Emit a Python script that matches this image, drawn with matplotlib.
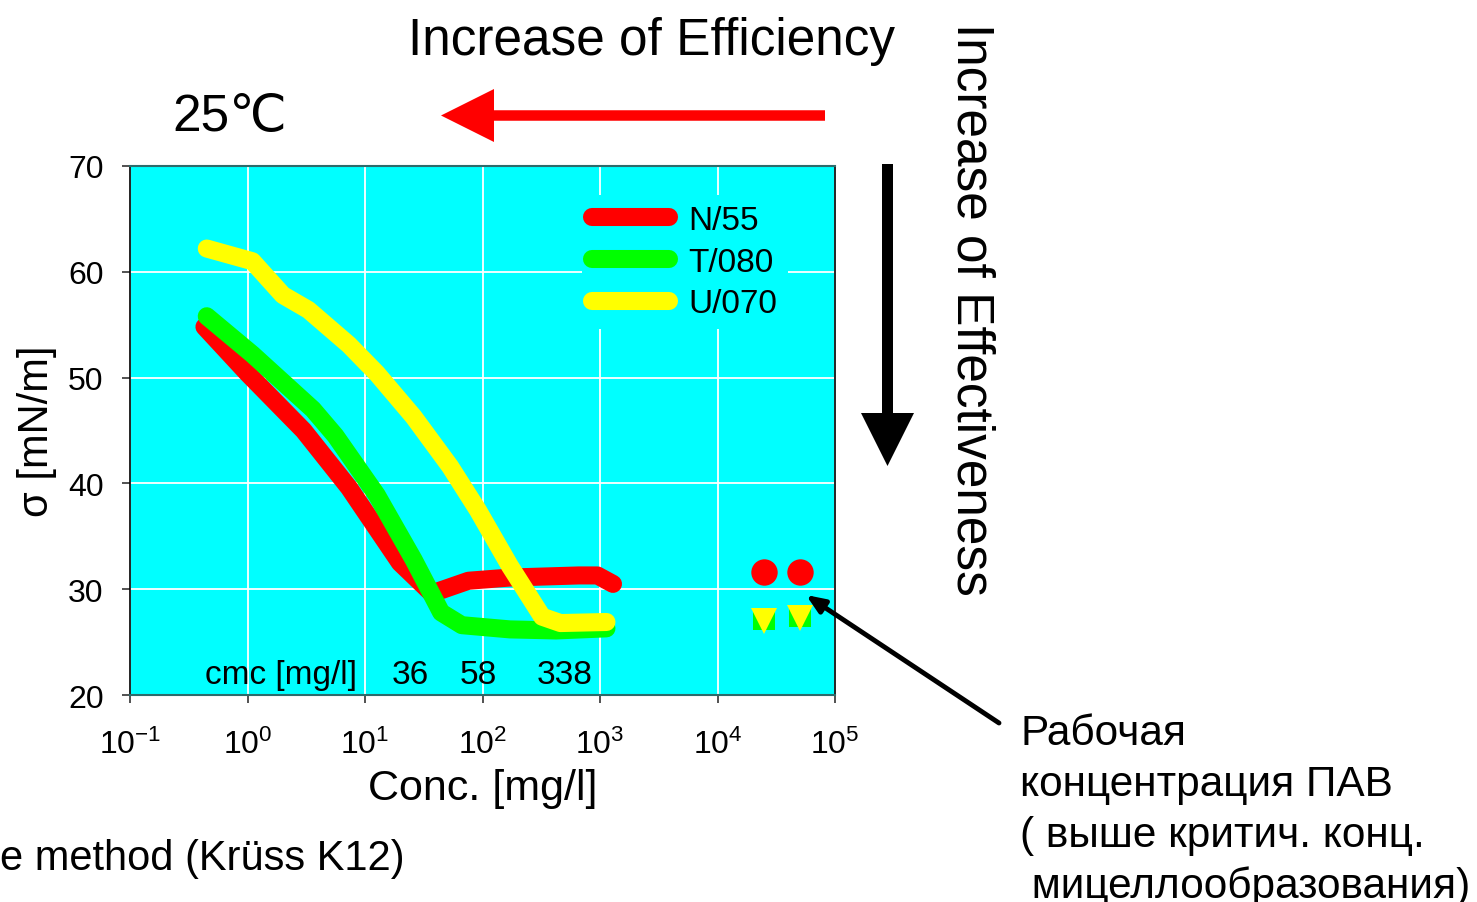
import numpy as np
import matplotlib
matplotlib.use("Agg")
import matplotlib.pyplot as plt
from matplotlib.patches import FancyArrow

plt.rcParams['font.family'] = ['Liberation Sans', 'DejaVu Sans']
plt.rcParams['mathtext.fontset'] = 'custom'
plt.rcParams['mathtext.rm'] = 'Liberation Sans'
plt.rcParams['mathtext.it'] = 'Liberation Sans:italic'
plt.rcParams['mathtext.bf'] = 'Liberation Sans:bold'

# surface tension vs concentration, 25 C
x_n55 = [0.43, 1.0, 3.0, 7.3, 19.8, 37, 50, 76, 170, 660, 950, 1290]
y_n55 = [54.8, 50.4, 45.0, 39.6, 32.5, 29.6, 30.1, 30.8, 31.1, 31.3, 31.3, 30.5]

x_t080 = [0.45, 1.1, 3.6, 5.6, 12.6, 25.9, 44.5, 66.7, 171, 422, 1135]
y_t080 = [55.8, 52.2, 47.0, 44.5, 38.9, 32.8, 27.8, 26.6, 26.2, 26.1, 26.3]

x_u070 = [0.45, 1.1, 2.0, 3.3, 7.3, 12.6, 25.9, 53, 91, 171, 322, 461, 1135]
y_u070 = [62.2, 61.0, 57.8, 56.4, 53.1, 50.4, 46.3, 41.6, 37.5, 32.2, 27.4, 26.8, 26.9]

# working concentration points
x_work = [25000, 50000]
y_n55_work = [31.6, 31.6]
y_t080_work = [27.2, 27.5]
y_u070_work = [27.0, 27.3]

cmc_values = ['36', '58', '338']

W, H = 1477, 903
fig = plt.figure(figsize=(W / 100, H / 100), dpi=100)
ax = fig.add_axes([130 / W, 1 - 696 / H, 705 / W, 529 / H])
ax.set_facecolor('#00ffff')

lw = 13
ax.plot(x_n55, y_n55, color='#ff0000', lw=lw, solid_capstyle='round', solid_joinstyle='round', label='N/55', zorder=3)
ax.plot(x_t080, y_t080, color='#00ff00', lw=lw, solid_capstyle='round', solid_joinstyle='round', label='T/080', zorder=4)
ax.plot(x_u070, y_u070, color='#ffff00', lw=lw, solid_capstyle='round', solid_joinstyle='round', label='U/070', zorder=5)

ax.plot(x_work, y_n55_work, 'o', color='#ff0000', ms=19, mew=0, zorder=6)
ax.plot(x_work, y_t080_work, 's', color='#00ff00', ms=16.5, mew=0, zorder=6)
ax.plot(x_work, y_u070_work, 'v', color='#ffff00', ms=19, mew=0, zorder=7)

ax.set_xscale('log')
ax.set_xlim(0.1, 1e5)
ax.set_ylim(20, 70)
ax.set_yticks([20, 30, 40, 50, 60, 70])
ax.minorticks_off()
ax.grid(True, color='white', lw=1.3)
ax.set_axisbelow(True)

for s in ['top', 'bottom']:
    ax.spines[s].set_color('#2d6b6b')
    ax.spines[s].set_linewidth(1.5)
for s in ['left', 'right']:
    ax.spines[s].set_color('black')
    ax.spines[s].set_linewidth(1.2)

ax.tick_params(axis='both', labelsize=23, length=6, width=1.2, color='#333333')
ax.tick_params(axis='y', pad=13)
ax.tick_params(axis='x', pad=18)

ax.set_xlabel('Conc. [mg/l]', fontsize=31, labelpad=6)
ax.set_ylabel('σ [mN/m]', fontsize=30, labelpad=8)

leg = ax.legend(loc='upper left', bbox_to_anchor=(582 / W, 1 - 196 / H), bbox_transform=fig.transFigure,
                fontsize=24, frameon=True, facecolor='#00ffff', edgecolor='none', framealpha=1,
                handlelength=2.3, handletextpad=0.6, labelspacing=0.32, borderpad=0.3, borderaxespad=0)
leg.set_zorder(8)

ax.text(0.107, 0.022, 'cmc [mg/l]', transform=ax.transAxes, fontsize=24, va='baseline', zorder=9)
for xf, lab in zip([0.397, 0.494, 0.617], cmc_values):
    ax.text(xf, 0.022, lab, transform=ax.transAxes, fontsize=24, ha='center', va='baseline', zorder=9)

# overlay in pixel coordinates for annotations
ov = fig.add_axes([0, 0, 1, 1], facecolor='none')
ov.set_xlim(0, W)
ov.set_ylim(H, 0)
ov.axis('off')

ov.add_patch(FancyArrow(825, 116.5, -384, 0, width=10.5, head_width=53, head_length=53,
                        length_includes_head=True, color='#ff0000', lw=0))
ov.add_patch(FancyArrow(887.5, 165, 0, 302, width=11, head_width=53, head_length=53,
                        length_includes_head=True, color='black', lw=0))
ov.annotate('', xy=(806, 596), xytext=(999, 724),
            arrowprops=dict(arrowstyle='-|>,head_length=1.1,head_width=0.45', color='black', lw=3.5,
                            shrinkA=0, shrinkB=0))

ov.text(408, 55, 'Increase of Efficiency', fontsize=37, va='baseline')
ov.text(172, 131, '25℃', fontsize=37, va='baseline')
ov.text(971, 309, 'Increase of Effectiveness', fontsize=37, rotation=-90, ha='center', va='center')

ru_lines = ['Рабочая', 'концентрация ПАВ', '( выше критич. конц.', ' мицеллообразования)']
for i, line in enumerate(ru_lines):
    ov.text(1020, 745 + i * 51, line, fontsize=30.5, va='baseline')

ov.text(405, 870, 'e method (Krüss K12)', fontsize=30, ha='right', va='baseline')

fig.savefig('out.png', dpi=100)
